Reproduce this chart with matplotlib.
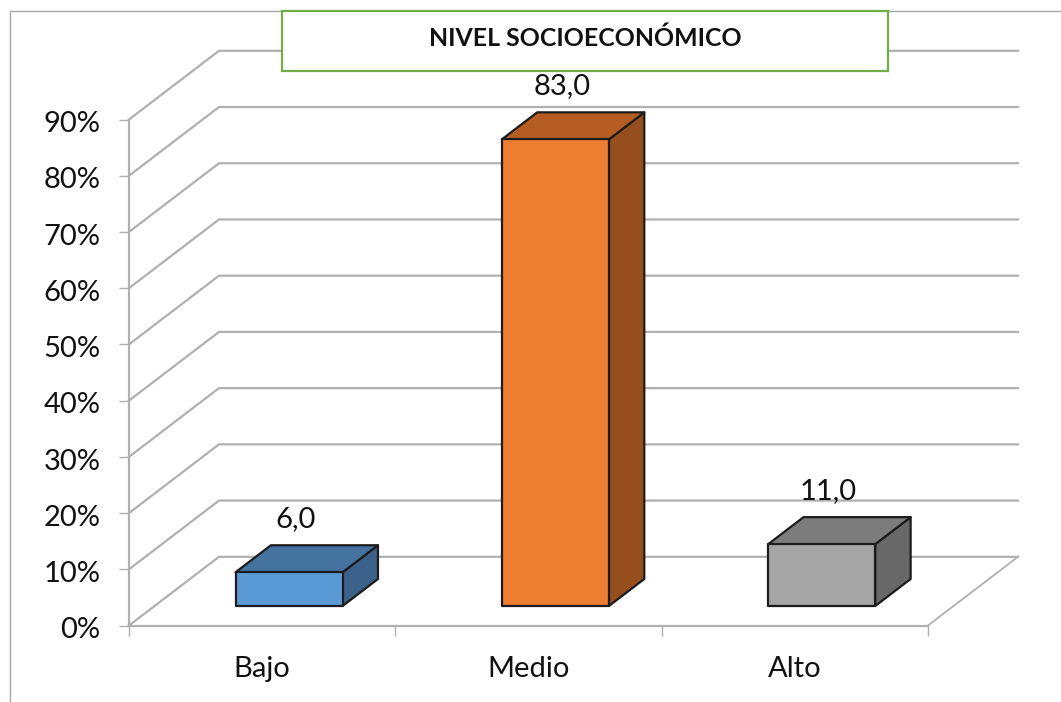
#recreating the 3D looking column chart of nivel socioeconomico
import matplotlib
matplotlib.use("Agg")
import matplotlib.pyplot as plt
from matplotlib.patches import Polygon, Rectangle
from matplotlib.transforms import ScaledTranslation

plt.rcParams['font.family'] = ['Lato', 'DejaVu Sans']

categories = ["Bajo", "Medio", "Alto"]
values = [6.0, 83.0, 11.0]
value_labels = ["6,0", "83,0", "11,0"]
y_ticks = [0, 10, 20, 30, 40, 50, 60, 70, 80, 90]
title_text = "NIVEL SOCIOECONÓMICO"

front_colors = ["#5B9BD5", "#ED7D31", "#A5A5A5"]
top_colors = ["#44739F", "#B55D23", "#7C7C7C"]
side_colors = ["#3A628A", "#964E1E", "#686868"]

W, H = 1061, 702
GRID = "#b0b0b0"
FS = 21

fig = plt.figure(figsize=(W / 100, H / 100), dpi=100)

# axes rectangle is the front face of the chart box, in pixels
left, right, bottom, top = 129, 928, 625.5, 119.5
ax = fig.add_axes([left / W, 1 - bottom / H, (right - left) / W, (bottom - top) / H])
ax.set_xlim(0, 3)
ax.set_ylim(0, 90)
ax.patch.set_visible(False)

# depth of the box, in data units
px_x = (right - left) / 3
px_y = (bottom - top) / 90
DX = 90 / px_x
DY = 68.7 / px_y


def project(x, y, d):
    return (x + d * DX, y + d * DY)


# walls and floor
for t in y_ticks:
    a = project(0, t, 0)
    b = project(0, t, 1)
    c = project(3, t, 1)
    ax.plot([a[0], b[0], c[0]], [a[1], b[1], c[1]], color=GRID, lw=1.6, clip_on=False,
            solid_joinstyle='miter', zorder=1)
a = project(3, 0, 0)
b = project(3, 0, 1)
ax.plot([a[0], b[0]], [a[1], b[1]], color=GRID, lw=1.3, clip_on=False, zorder=1)

# bars
bar_w = 0.402
shift = 0.005
d0, d1 = 0.284, 0.677
for i, v in enumerate(values):
    x0 = i + 0.5 + shift - bar_w / 2
    x1 = x0 + bar_w
    front = [project(x0, 0, d0), project(x1, 0, d0), project(x1, v, d0), project(x0, v, d0)]
    side = [project(x1, 0, d0), project(x1, 0, d1), project(x1, v, d1), project(x1, v, d0)]
    roof = [project(x0, v, d0), project(x1, v, d0), project(x1, v, d1), project(x0, v, d1)]
    for pts, col in [(side, side_colors[i]), (roof, top_colors[i]), (front, front_colors[i])]:
        ax.add_patch(Polygon(pts, closed=True, facecolor=col, edgecolor="#1c1c1c", lw=1.6,
                             joinstyle='round', clip_on=False, zorder=3))
    lx, ly = project(i + 0.5, v, d1)
    ax.annotate(value_labels[i], (lx, ly), xytext=(-27.5 * 0.72, 26 * 0.72), textcoords='offset points',
                ha='center', va='center', fontsize=FS, color="#111111", zorder=5, annotation_clip=False)

# axis lines and ticks
for s in ['top', 'right']:
    ax.spines[s].set_visible(False)
for s in ['left', 'bottom']:
    ax.spines[s].set_color(GRID)
    ax.spines[s].set_linewidth(1.6)
ax.set_yticks(y_ticks)
ax.set_yticklabels([f"{t}%" for t in y_ticks])
ax.set_xticks([0, 1, 2, 3])
ax.set_xticklabels([])
ax.set_xticks([0.5, 1.5, 2.5], minor=True)
ax.set_xticklabels(categories, minor=True)
ax.tick_params(axis='y', length=7, width=1, color=GRID, labelsize=FS, pad=13.5, labelcolor="#111111")
ax.tick_params(axis='x', which='major', length=7, width=1, color=GRID)
ax.tick_params(axis='x', which='minor', length=0, labelsize=FS, pad=22, labelcolor="#111111")

# push the y labels a little below their ticks
down = ScaledTranslation(0, -1.6 / 72, fig.dpi_scale_trans)
for lbl in ax.get_yticklabels():
    lbl.set_transform(lbl.get_transform() + down)

# outer chart border, only top and left show in the picture
bg = fig.add_axes([0, 0, 1, 1], zorder=-1)
bg.set_xlim(0, W)
bg.set_ylim(H, 0)
bg.axis('off')
bg.plot([10, 10, W], [H, 10.5, 10.5], color="#a6a6a6", lw=1.0)

# title box sits on top of the gridlines
over = fig.add_axes([0, 0, 1, 1], zorder=5)
over.set_xlim(0, W)
over.set_ylim(H, 0)
over.axis('off')
over.add_patch(Rectangle((282, 11), 606, 60, facecolor="white", edgecolor="#70AD47", lw=1.6))
over.text(585.5, 38.5, title_text, ha='center', va='center', fontsize=17.9, fontweight='bold', color="#111111")

fig.savefig("out.png", dpi=100)
